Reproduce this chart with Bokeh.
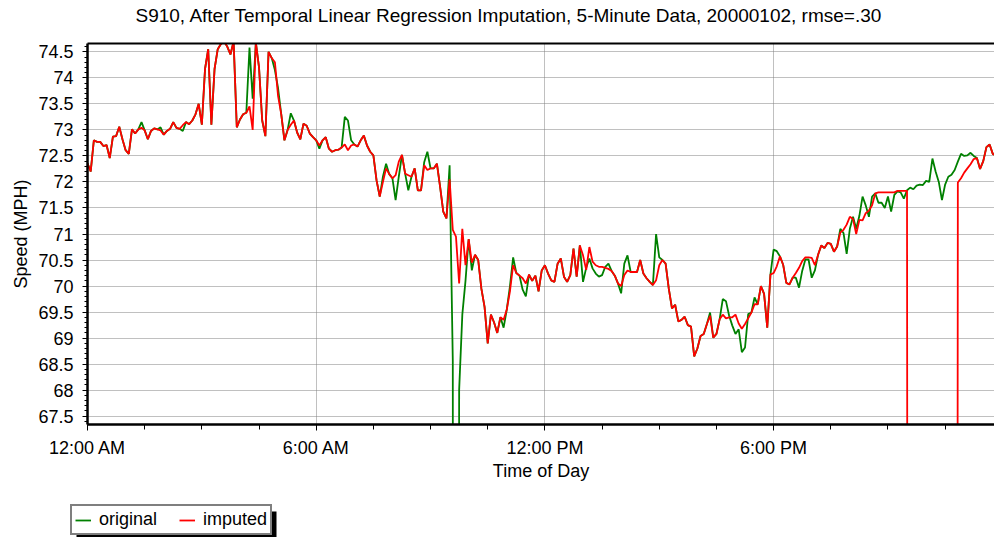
from bokeh.plotting import figure
from bokeh.layouts import column
from bokeh.models import Range1d, FixedTicker, LinearAxis, Legend, LegendItem, BoxAnnotation
from bokeh.embed import file_html
from bokeh.resources import INLINE

TITLE = "S910, After Temporal Linear Regression Imputation, 5-Minute Data, 20000102, rmse=.30"
X_LABEL = "Time of Day"
Y_LABEL = "Speed (MPH)"
SERIES_NAMES = ["original", "imputed"]

# 5-minute samples over the day (minutes after midnight)
minutes = list(range(0, 1440, 5))

imputed = [
    72.36, 72.20, 72.80, 72.77, 72.77, 72.69, 72.71, 72.46, 72.87, 72.88, 73.06, 72.82,
    72.61, 72.54, 73.01, 72.93, 73.01, 73.04, 72.99, 72.82, 72.98, 73.03, 73.01, 72.99,
    72.91, 72.98, 73.02, 73.15, 73.04, 73.02, 73.09, 73.15, 73.11, 73.18, 73.30, 73.50,
    73.10, 74.17, 74.55, 73.10, 74.17, 74.55, 74.65, 74.70, 74.60, 74.45, 74.70, 73.05,
    73.20, 73.30, 73.33, 73.45, 73.00, 74.68, 74.20, 73.18, 72.88, 74.50, 74.38, 74.30,
    73.65, 73.30, 72.80, 73.00, 73.10, 73.18, 72.95, 72.82, 73.12, 73.08, 72.93, 72.86,
    72.80, 72.70, 72.80, 72.86, 72.64, 72.58, 72.61, 72.62, 72.66, 72.72, 72.61, 72.70,
    72.72, 72.68, 72.80, 72.89, 72.70, 72.58, 72.51, 72.03, 71.72, 72.00, 72.26, 72.15,
    72.07, 72.13, 72.39, 72.52, 72.16, 72.13, 72.10, 72.26, 71.84, 71.84, 72.32, 72.23,
    72.26, 72.26, 72.35, 71.91, 71.43, 71.30, 72.05, 71.08, 70.95, 70.05, 71.10, 70.40,
    70.90, 70.45, 70.60, 70.50, 69.95, 69.60, 68.90, 69.45, 69.30, 69.10, 69.40, 69.35,
    69.55, 69.90, 70.40, 70.25, 70.20, 70.15, 70.05, 70.22, 70.10, 70.20, 69.90, 70.30,
    70.40, 70.24, 70.11, 70.08, 70.43, 70.53, 70.18, 70.08, 70.21, 70.72, 70.18, 70.78,
    70.59, 70.31, 70.75, 70.47, 70.40, 70.37, 70.37, 70.35, 70.33, 70.29, 70.20, 70.05,
    70.00, 70.21, 70.30, 70.27, 70.27, 70.27, 70.50, 70.24, 70.15, 70.08, 70.02, 70.11,
    70.40, 70.50, 70.43, 69.95, 69.57, 69.64, 69.32, 69.35, 69.41, 69.25, 69.22, 68.65,
    68.80, 69.04, 69.08, 69.27, 69.43, 69.01, 69.08, 69.36, 69.45, 69.38, 69.40, 69.40,
    69.45, 69.28, 69.18, 69.27, 69.38, 69.49, 69.65, 69.65, 70.00, 69.85, 69.20, 70.22,
    70.25, 70.38, 70.57, 70.41, 70.06, 70.03, 70.16, 70.25, 70.35, 70.48, 70.55, 70.55,
    70.54, 70.40, 70.60, 70.78, 70.73, 70.83, 70.81, 70.66, 70.76, 71.03, 71.08, 71.18,
    71.33, 71.29, 71.00, 71.27, 71.26, 71.40, 71.45, 71.55, 71.78, 71.80, 71.80, 71.80,
    71.80, 71.80, 71.80, 71.83, 71.83, 71.83, 71.83, 0.0, 0.0, 0.0, 0.0, 0.0,
    0.0, 0.0, 0.0, 0.0, 0.0, 0.0, 0.0, 0.0, 0.0, 0.0, 71.99, 72.07,
    72.18, 72.26, 72.34, 72.44, 72.46, 72.25, 72.40, 72.67, 72.72, 72.54, 72.51, 72.45,
]

original = [
    72.36, 72.20, 72.80, 72.77, 72.77, 72.69, 72.71, 72.46, 72.87, 72.88, 73.06, 72.82,
    72.61, 72.54, 73.01, 72.93, 73.01, 73.15, 72.99, 72.82, 72.98, 73.03, 73.01, 73.05,
    72.91, 72.98, 73.02, 73.15, 73.04, 73.02, 72.98, 73.15, 73.11, 73.18, 73.30, 73.50,
    73.10, 74.17, 74.55, 73.10, 74.17, 74.55, 74.65, 74.70, 74.60, 74.45, 74.70, 73.05,
    73.20, 73.30, 73.33, 74.58, 73.60, 74.68, 74.20, 73.18, 72.88, 74.50, 74.38, 74.15,
    73.80, 73.30, 72.80, 73.00, 73.32, 73.18, 72.95, 72.82, 73.12, 73.08, 72.93, 72.86,
    72.80, 72.64, 72.80, 72.86, 72.64, 72.58, 72.61, 72.62, 72.66, 73.25, 73.18, 72.80,
    72.72, 72.68, 72.80, 72.89, 72.70, 72.58, 72.51, 72.03, 71.72, 72.10, 72.35, 72.15,
    72.07, 71.65, 72.10, 72.52, 72.16, 71.84, 72.10, 72.26, 71.84, 71.84, 72.38, 72.58,
    72.26, 72.26, 72.35, 71.91, 71.43, 71.30, 72.32, 68.56, 0.0, 68.00, 69.45, 70.10,
    70.90, 70.30, 70.60, 70.50, 69.95, 69.60, 68.90, 69.45, 69.30, 69.10, 69.40, 69.20,
    69.55, 70.00, 70.55, 70.25, 70.20, 69.93, 69.80, 70.22, 70.10, 70.20, 69.90, 70.30,
    70.40, 70.24, 70.11, 70.08, 70.43, 70.53, 70.18, 70.08, 70.21, 70.72, 70.18, 70.78,
    70.08, 70.35, 70.53, 70.34, 70.24, 70.18, 70.21, 70.37, 70.43, 70.29, 70.20, 70.05,
    69.86, 70.43, 70.59, 70.27, 70.27, 70.27, 70.50, 70.24, 70.15, 70.08, 70.02, 71.00,
    70.55, 70.50, 70.43, 69.95, 69.57, 69.64, 69.32, 69.35, 69.41, 69.25, 69.22, 68.65,
    68.80, 69.04, 69.08, 69.27, 69.49, 69.01, 69.08, 69.36, 69.75, 69.71, 69.43, 69.24,
    69.08, 69.17, 68.73, 68.82, 69.46, 69.49, 69.78, 69.65, 70.00, 69.85, 69.20, 70.22,
    70.70, 70.67, 70.57, 70.41, 70.06, 70.03, 70.16, 70.16, 69.97, 70.29, 70.51, 70.51,
    70.16, 70.30, 70.60, 70.78, 70.73, 70.83, 70.81, 70.66, 70.76, 71.10, 71.02, 70.62,
    71.10, 71.33, 71.10, 71.35, 71.72, 71.55, 71.33, 71.72, 71.78, 71.60, 71.60, 71.50,
    71.72, 71.43, 71.75, 71.82, 71.80, 71.68, 71.84, 71.89, 71.86, 71.93, 71.95, 71.94,
    72.02, 72.00, 72.45, 72.20, 72.00, 71.65, 71.95, 72.10, 72.14, 72.23, 72.39, 72.54,
    72.50, 72.51, 72.56, 72.50, 72.46, 72.25, 72.40, 72.67, 72.72, 72.54, 72.51, 72.45,
]

x_tick_minutes = [0, 360, 720, 1080]
x_tick_labels = ["12:00 AM", "6:00 AM", "12:00 PM", "6:00 PM"]
x_minor_minutes = [90, 180, 270, 450, 540, 630, 810, 900, 990, 1170, 1260, 1350]
y_ticks = [67.5, 68, 68.5, 69, 69.5, 70, 70.5, 71, 71.5, 72, 72.5, 73, 73.5, 74, 74.5]
y_tick_labels = ["67.5", "68", "68.5", "69", "69.5", "70", "70.5", "71", "71.5",
                 "72", "72.5", "73", "73.5", "74", "74.5"]

FONT = "Liberation Sans"
FS = "18px"
GREEN = "#008000"
RED = "#ff0000"
LW = 1.8

p = figure(width=994, height=500, output_backend="svg", toolbar_location=None,
           x_range=Range1d(0, 1427.7), y_range=Range1d(67.34, 74.66),
           min_border_left=87, min_border_right=0, min_border_top=41, min_border_bottom=76,
           background_fill_color="white", border_fill_color="white", frame_align=False)
p.outline_line_color = None

p.title.text = TITLE
p.title.text_font = FONT
p.title.text_font_size = "19px"
p.title.text_font_style = "normal"
p.title.text_color = "black"
p.title.align = "left"
p.title.offset = 48
p.title.standoff = 4

g = p.line(minutes, original, line_color=GREEN, line_width=LW)
r = p.line(minutes, imputed, line_color=RED, line_width=LW)

# axes
xa = p.xaxis[0]
xa.ticker = FixedTicker(ticks=x_tick_minutes, minor_ticks=x_minor_minutes + x_tick_minutes)
xa.major_label_overrides = {t: l for t, l in zip(x_tick_minutes, x_tick_labels)}
ya = p.yaxis[0]
ya.ticker = FixedTicker(ticks=y_ticks, minor_ticks=[round(67.4 + 0.1 * k, 1) for k in range(73)])
ya.major_label_overrides = {t: l for t, l in zip(y_ticks, y_tick_labels)}

for ax in (xa, ya):
    ax.axis_line_color = "black"
    ax.axis_line_width = 2.5
    ax.major_tick_line_color = "black"
    ax.minor_tick_line_color = "black"
    ax.major_tick_in = 0
    ax.minor_tick_in = 0
    ax.major_label_text_font = FONT
    ax.major_label_text_font_size = FS
    ax.major_label_text_color = "black"
    ax.axis_label_text_font = FONT
    ax.axis_label_text_font_size = FS
    ax.axis_label_text_font_style = "normal"
    ax.axis_label_text_color = "black"

xa.axis_label = X_LABEL
xa.major_tick_out = 6
xa.minor_tick_out = 5
xa.major_label_standoff = 7
xa.axis_label_standoff = 0
ya.axis_label = Y_LABEL
ya.major_tick_out = 5
ya.minor_tick_out = 3
ya.major_label_standoff = 9
ya.axis_label_standoff = 4

# top frame border; its blank label keeps the title clear of the frame
top = LinearAxis(ticker=FixedTicker(ticks=[700]), major_label_overrides={700: " "},
                 axis_line_color="black", axis_line_width=2,
                 major_tick_out=0, major_tick_in=0, minor_tick_out=0, minor_tick_in=0,
                 major_label_text_font=FONT, major_label_text_font_size="10px",
                 major_label_standoff=2)
p.add_layout(top, "above")

# grid
p.xgrid.ticker = FixedTicker(ticks=x_tick_minutes)
p.ygrid.ticker = FixedTicker(ticks=y_ticks)
for gr in (p.xgrid, p.ygrid):
    gr.grid_line_color = "#808080"
    gr.grid_line_dash = "1 1"
    gr.grid_line_width = 1

# legend strip below the chart; its ranges are pixel-sized, and the series
# (all >= 0) are drawn there again only to serve as legend glyphs, out of view
leg = figure(width=994, height=37, output_backend="svg", toolbar_location=None,
             x_axis_type=None, y_axis_type=None,
             x_range=Range1d(0, 994), y_range=Range1d(-40, -3),
             min_border_left=0, min_border_right=0, min_border_top=0, min_border_bottom=0,
             background_fill_color="white", border_fill_color="white", frame_align=False)
leg.outline_line_color = None
leg.xgrid.visible = False
leg.ygrid.visible = False
lg_g = leg.line(minutes, original, line_color=GREEN, line_width=LW)
lg_r = leg.line(minutes, imputed, line_color=RED, line_width=LW)

# drop shadow of the legend box
leg.add_layout(BoxAnnotation(left=76, right=276, top=-14, bottom=-50,
                             fill_color="black", fill_alpha=1.0, line_color=None))

legend = Legend(items=[LegendItem(label=SERIES_NAMES[0], renderers=[lg_g]),
                       LegendItem(label=SERIES_NAMES[1], renderers=[lg_r])],
                location=(70, 2), orientation="horizontal",
                padding=3, spacing=22, margin=0, glyph_width=16, glyph_height=20,
                label_height=20, label_standoff=8,
                label_text_font=FONT, label_text_font_size=FS,
                label_text_color="black",
                border_line_color="black", border_line_width=2,
                background_fill_color="white", background_fill_alpha=1.0)
leg.add_layout(legend, "center")

page = column(p, leg, spacing=0)
open("out.html", "w").write(file_html(page, INLINE))
